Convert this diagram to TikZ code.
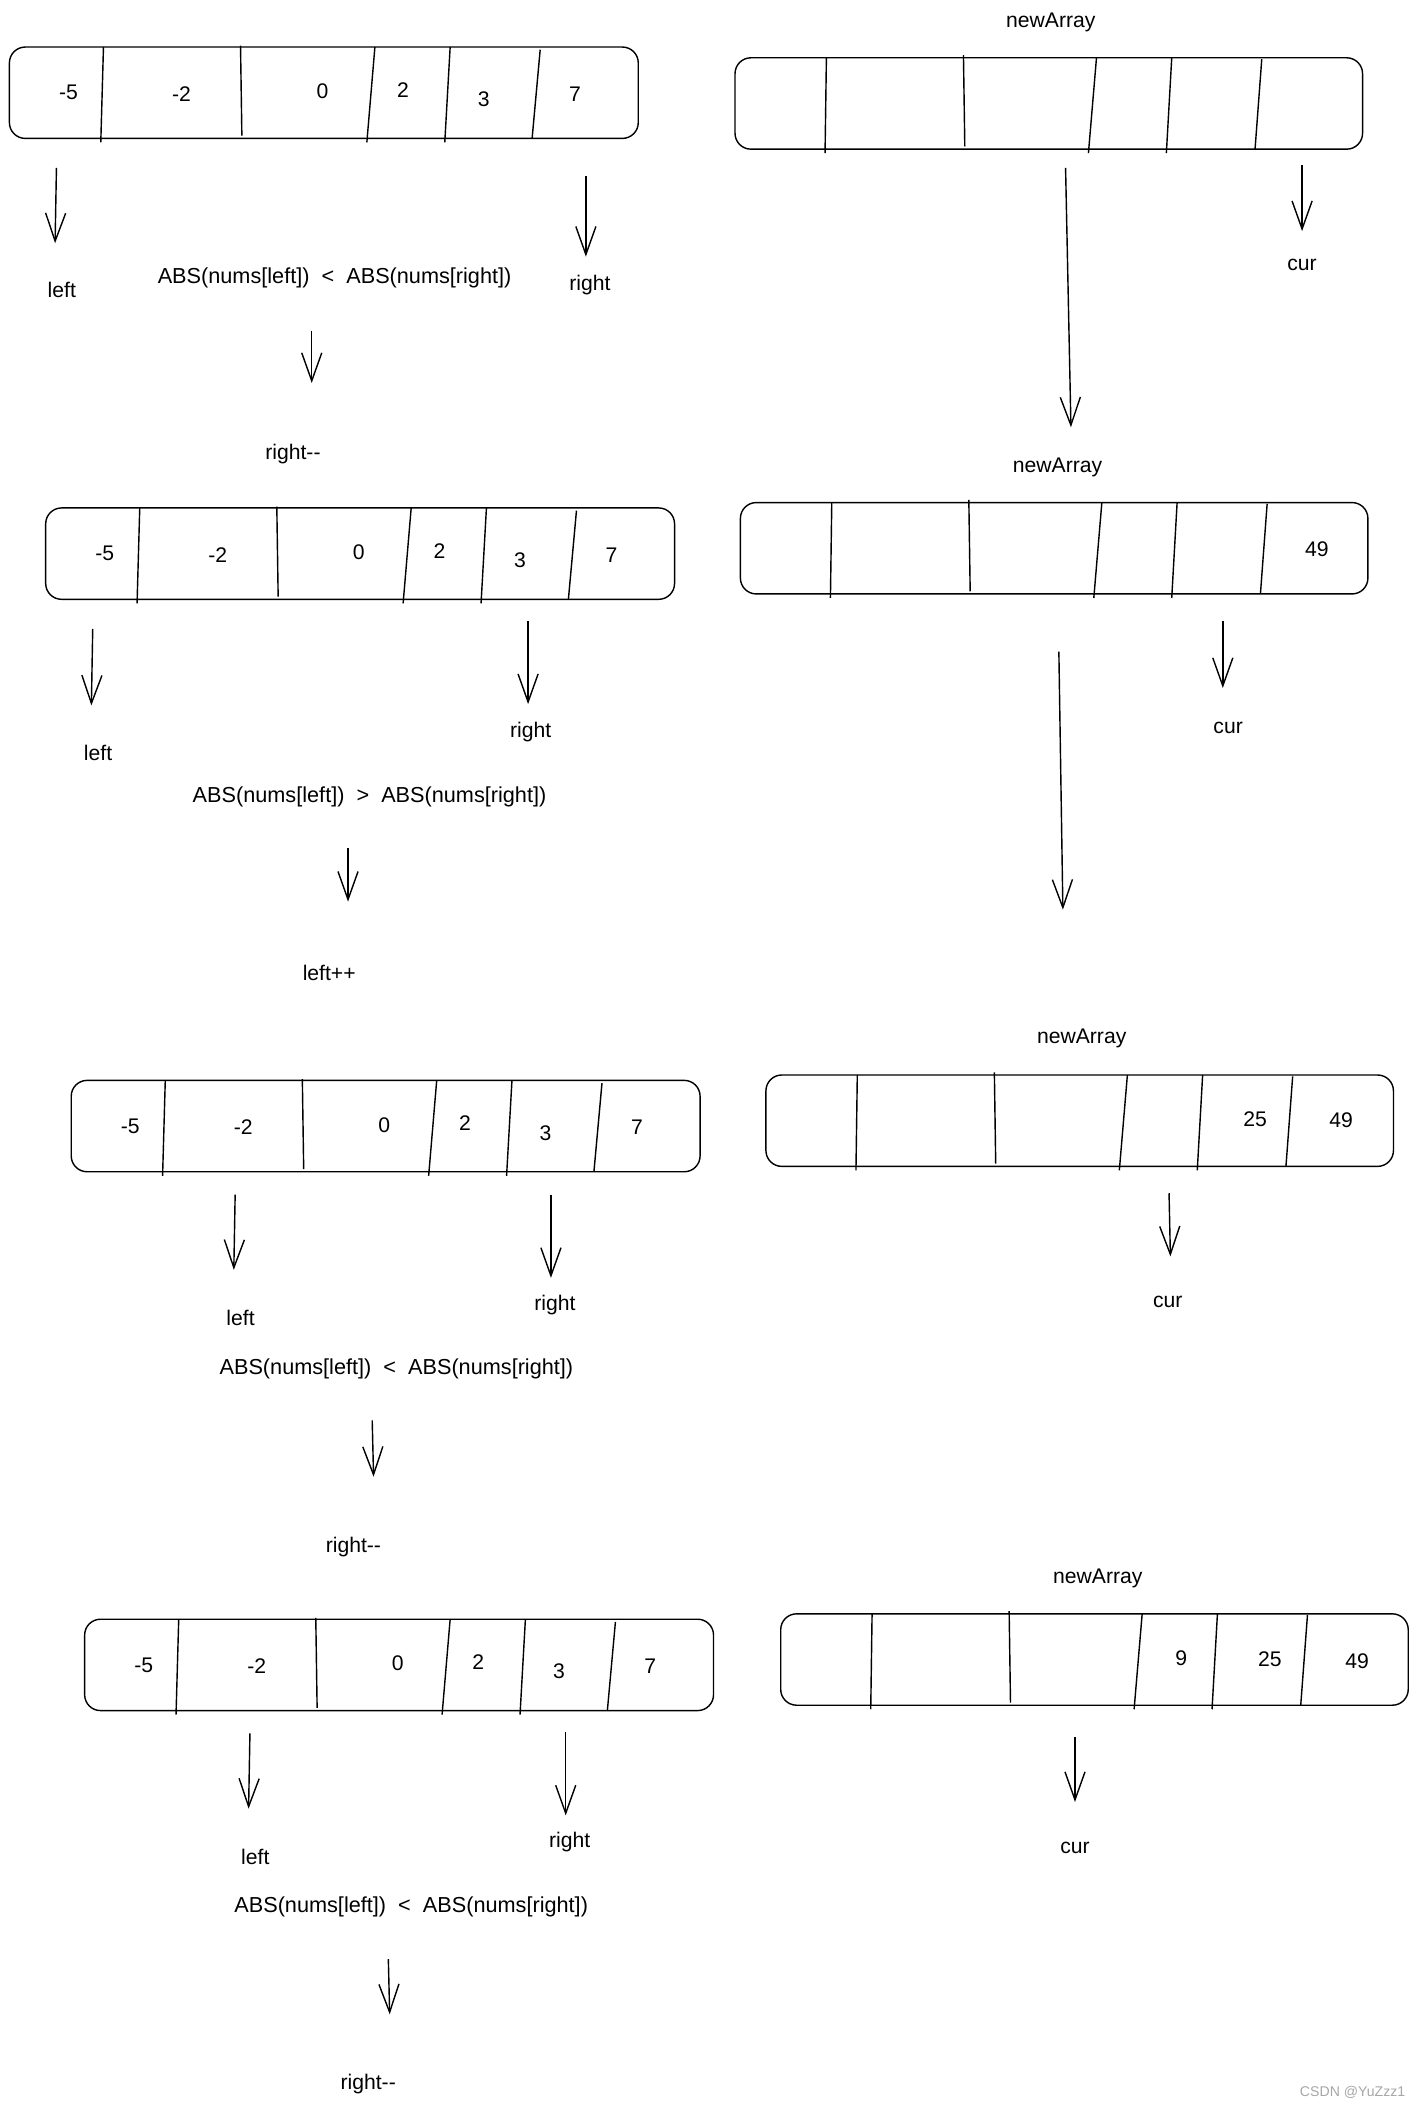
\documentclass[tikz,border=0pt]{standalone}
\usepackage{fontspec}
\setmainfont{Liberation Sans}
\usetikzlibrary{arrows.meta}

\tikzset{
  box/.style={draw, line width=0.8pt, rounded corners=9pt},
  wall/.style={line width=0.8pt},
  ptr/.style={line width=0.8pt, -{Straight Barb[length=5.6mm,width=4mm,line width=0.8pt]}},
  txt/.style={font=\fontsize{12}{14}\selectfont, inner sep=0pt},
  cond/.style={font=\fontsize{12.3}{14}\selectfont, inner sep=0pt},
  wmark/.style={font=\fontsize{8}{9}\selectfont, text=gray!70, inner sep=0pt, anchor=east},
}

\begin{document}
\begin{tikzpicture}[x=0.0268cm, y=-0.0268cm]
\useasboundingbox (0,0) rectangle (1058,1571);

% nums, first pass
\draw[box] (7,35) rectangle (475,103);
\draw[wall] (77,35) -- (75,106);
\draw[wall] (179,34) -- (180,101);
\draw[wall] (279,35) -- (273,106);
\draw[wall] (335,35) -- (331,106);
\draw[wall] (402,37) -- (396,103);
\node[txt] (a1n1) at (51,69) {-5};
\node[txt] (a1n2) at (135,70) {-2};
\node[txt] (a1n3) at (240,68) {0};
\node[txt] (a1n4) at (300,67) {2};
\node[txt] (a1n5) at (360,74) {3};
\node[txt] (a1n6) at (428,70) {7};

\coordinate (a1ls) at (42,125);
\coordinate (a1le) at (41,181);
\coordinate (a1rs) at (436,131);
\coordinate (a1re) at (436,191);
\draw[ptr] (a1ls) -- (a1le);
\draw[ptr] (a1rs) -- (a1re);
\node[txt] (a1left) at (46,216) {left};
\node[txt] (a1right) at (439,212) {right};
\node[cond] (a1cond) at (249,207) {ABS(nums[left])\ \ <\ \ ABS(nums[right])};
\coordinate (a1ds) at (232,246);
\coordinate (a1de) at (232,285);
\draw[ptr] (a1ds) -- (a1de);
\node[txt] (a1step) at (218,338) {right-{}-};

% nums, second pass
\draw[box] (34,378) rectangle (502,446);
\draw[wall] (104,378) -- (102,449);
\draw[wall] (206,377) -- (207,444);
\draw[wall] (306,378) -- (300,449);
\draw[wall] (362,378) -- (358,449);
\draw[wall] (429,380) -- (423,446);
\node[txt] (a2n1) at (78,412) {-5};
\node[txt] (a2n2) at (162,413) {-2};
\node[txt] (a2n3) at (267,411) {0};
\node[txt] (a2n4) at (327,410) {2};
\node[txt] (a2n5) at (387,417) {3};
\node[txt] (a2n6) at (455,413) {7};

\coordinate (a2ls) at (69,468);
\coordinate (a2le) at (68,525);
\coordinate (a2rs) at (393,462);
\coordinate (a2re) at (393,524);
\draw[ptr] (a2ls) -- (a2le);
\draw[ptr] (a2rs) -- (a2re);
\node[txt] (a2left) at (73,560) {left};
\node[txt] (a2right) at (395,545) {right};
\node[cond] (a2cond) at (275,593) {ABS(nums[left])\ \ >\ \ ABS(nums[right])};
\coordinate (a2ds) at (259,631);
\coordinate (a2de) at (259,671);
\draw[ptr] (a2ds) -- (a2de);
\node[txt] (a2step) at (245,724) {left++};

% nums, third pass
\draw[box] (53,804) rectangle (521,872);
\draw[wall] (123,804) -- (121,875);
\draw[wall] (225,803) -- (226,870);
\draw[wall] (325,804) -- (319,875);
\draw[wall] (381,804) -- (377,875);
\draw[wall] (448,806) -- (442,872);
\node[txt] (a3n1) at (97,838) {-5};
\node[txt] (a3n2) at (181,839) {-2};
\node[txt] (a3n3) at (286,837) {0};
\node[txt] (a3n4) at (346,836) {2};
\node[txt] (a3n5) at (406,843) {3};
\node[txt] (a3n6) at (474,839) {7};

\coordinate (a3ls) at (175,889);
\coordinate (a3le) at (174,945);
\coordinate (a3rs) at (410,889);
\coordinate (a3re) at (410,951);
\draw[ptr] (a3ls) -- (a3le);
\draw[ptr] (a3rs) -- (a3re);
\node[txt] (a3left) at (179,981) {left};
\node[txt] (a3right) at (413,971) {right};
\node[cond] (a3cond) at (295,1019) {ABS(nums[left])\ \ <\ \ ABS(nums[right])};
\coordinate (a3ds) at (277,1057);
\coordinate (a3de) at (278,1099);
\draw[ptr] (a3ds) -- (a3de);
\node[txt] (a3step) at (263,1151) {right-{}-};

% nums, fourth pass
\draw[box] (63,1205) rectangle (531,1273);
\draw[wall] (133,1205) -- (131,1276);
\draw[wall] (235,1204) -- (236,1271);
\draw[wall] (335,1205) -- (329,1276);
\draw[wall] (391,1205) -- (387,1276);
\draw[wall] (458,1207) -- (452,1273);
\node[txt] (a4n1) at (107,1239) {-5};
\node[txt] (a4n2) at (191,1240) {-2};
\node[txt] (a4n3) at (296,1238) {0};
\node[txt] (a4n4) at (356,1237) {2};
\node[txt] (a4n5) at (416,1244) {3};
\node[txt] (a4n6) at (484,1240) {7};

\coordinate (a4ls) at (186,1290);
\coordinate (a4le) at (185,1346);
\coordinate (a4rs) at (421,1289);
\coordinate (a4re) at (421,1351);
\draw[ptr] (a4ls) -- (a4le);
\draw[ptr] (a4rs) -- (a4re);
\node[txt] (a4left) at (190,1382) {left};
\node[txt] (a4right) at (424,1371) {right};
\node[cond] (a4cond) at (306,1419) {ABS(nums[left])\ \ <\ \ ABS(nums[right])};
\coordinate (a4ds) at (289,1458);
\coordinate (a4de) at (290,1499);
\draw[ptr] (a4ds) -- (a4de);
\node[txt] (a4step) at (274,1551) {right-{}-};

% newArray, empty
\node[txt] (b1name) at (782,17) {newArray};
\draw[box] (547,43) rectangle (1014,111);
\draw[wall] (615,43) -- (614,114);
\draw[wall] (717,41) -- (718,109);
\draw[wall] (816,43) -- (810,114);
\draw[wall] (872,43) -- (868,114);
\draw[wall] (939,44) -- (934,111);
\coordinate (b1cs) at (969,123);
\coordinate (b1ce) at (969,172);
\draw[ptr] (b1cs) -- (b1ce);
\node[txt] (b1cur) at (969,197) {cur};
\coordinate (b1ds) at (793,125);
\coordinate (b1de) at (797,318);
\draw[ptr] (b1ds) -- (b1de);

% newArray, 49
\node[txt] (b2name) at (787,348) {newArray};
\draw[box] (551,374) rectangle (1018,442);
\draw[wall] (619,374) -- (618,445);
\draw[wall] (721,372) -- (722,440);
\draw[wall] (820,374) -- (814,445);
\draw[wall] (876,374) -- (872,445);
\draw[wall] (943,375) -- (938,442);
\node[txt] (b2n6) at (980,409) {49};
\coordinate (b2cs) at (910,462);
\coordinate (b2ce) at (910,512);
\draw[ptr] (b2cs) -- (b2ce);
\node[txt] (b2cur) at (914,542) {cur};
\coordinate (b2ds) at (788,485);
\coordinate (b2de) at (791,677);
\draw[ptr] (b2ds) -- (b2de);

% newArray, 25 49
\node[txt] (b3name) at (805,773) {newArray};
\draw[box] (570,800) rectangle (1037,868);
\draw[wall] (638,800) -- (637,871);
\draw[wall] (740,798) -- (741,866);
\draw[wall] (839,800) -- (833,871);
\draw[wall] (895,800) -- (891,871);
\draw[wall] (962,801) -- (957,868);
\node[txt] (b3n5) at (934,833) {25};
\node[txt] (b3n6) at (998,834) {49};
\coordinate (b3cs) at (870,888);
\coordinate (b3ce) at (871,935);
\draw[ptr] (b3cs) -- (b3ce);
\node[txt] (b3cur) at (869,969) {cur};

% newArray, 9 25 49
\node[txt] (b4name) at (817,1175) {newArray};
\draw[box] (581,1201) rectangle (1048,1269);
\draw[wall] (649,1201) -- (648,1272);
\draw[wall] (751,1199) -- (752,1267);
\draw[wall] (850,1201) -- (844,1272);
\draw[wall] (906,1201) -- (902,1272);
\draw[wall] (973,1202) -- (968,1269);
\node[txt] (b4n4) at (879,1234) {9};
\node[txt] (b4n5) at (945,1235) {25};
\node[txt] (b4n6) at (1010,1236) {49};
\coordinate (b4cs) at (800,1293);
\coordinate (b4ce) at (800,1341);
\draw[ptr] (b4cs) -- (b4ce);
\node[txt] (b4cur) at (800,1375) {cur};

\node[wmark] (wm) at (1046,1557) {CSDN @YuZzz1};
\end{tikzpicture}
\end{document}
